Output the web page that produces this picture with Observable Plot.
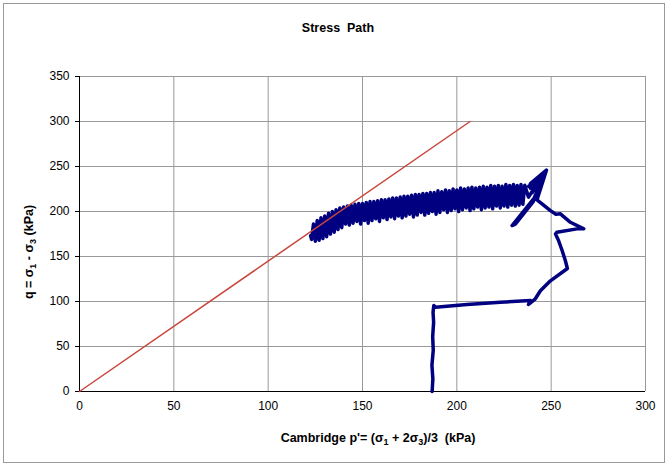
<!DOCTYPE html>
<html><head><meta charset="utf-8">
<script src="https://cdn.jsdelivr.net/npm/d3@7"></script>
<script src="https://cdn.jsdelivr.net/npm/@observablehq/plot@0.6"></script>
<style>body{margin:0;background:#fff}</style>
</head><body><div id="chart"></div>
<script>
// Tick values
const xTicks = [0, 50, 100, 150, 200, 250, 300];
const yTicks = [0, 50, 100, 150, 200, 250, 300, 350];

// Critical state line (red)
const cslP = [0, 207];
const cslQ = [0, 300];

// Stress path (blue): loading, then spike, then cyclic band
const pathP = [
  186.9, 187.3, 186.8, 187.5, 187.2, 187.7, 187.4, 187.8, 188.7, 205.4, 223, 239, 238, 241.6, 244.3, 249.6,
  258.6, 257.5, 255.8, 253.9, 252.3, 253, 263.7, 267.3, 260.2, 254.9, 252.5, 249.6, 242.5,
  247.5, 239, 247, 239, 246.5, 240, 247, 241, 229.3, 231, 240.5, 246, 238, 244, 238,
  236, 235, 234, 233, 232, 231, 230, 229, 228, 227, 226, 225, 224, 223, 222, 221, 220, 219, 218, 217,
  216, 215, 214, 213, 212, 211, 210, 209, 208, 207, 206, 205, 204, 203, 202, 201, 200, 199, 198, 197,
  196, 195, 194, 193, 192, 191, 190, 189, 188, 187, 186, 185, 184, 183, 182, 181, 180, 179, 178, 177,
  176, 175, 174, 173, 172, 171, 170, 169, 168, 167, 166, 165, 164, 163, 162, 161, 160, 159, 158, 157,
  156, 155, 154, 153, 152, 151, 150, 149, 148, 147, 146, 145, 144, 143, 142, 141, 140, 139, 138, 137,
  136, 135, 134, 133, 132, 131, 130, 129, 128, 127, 126, 125, 124, 123, 122.5
];
const pathQ = [
  0, 14, 29, 46, 61, 77, 88, 95.5, 93.7, 96.7, 99.2, 101, 96.7, 103, 112, 123,
  136.7, 145.5, 156.7, 167.8, 175, 177, 180.7, 180.7, 188, 197.4, 197, 201, 213,
  246, 231, 244, 226, 242, 221, 244, 215, 184.4, 186, 211, 240, 228, 236, 216,
  229, 208, 230, 207, 229, 206, 230, 207, 229, 205, 230, 206, 228, 204, 229, 206, 228, 203, 229, 205,
  227, 204, 228, 202, 227, 205, 226, 203, 227, 201, 226, 204, 225, 202, 226, 200, 224, 203, 225, 201,
  223, 199, 224, 202, 222, 199, 223, 197, 221, 200, 221, 198, 220, 196, 220, 199, 219, 196, 219, 194,
  218, 197, 217, 195, 217, 193, 216, 195, 215, 192, 215, 194, 214, 191, 213, 193, 213, 189, 212, 192,
  211, 190, 211, 187, 210, 190, 209, 186, 209, 189, 208, 187, 207, 185, 206, 186, 205, 182, 204, 180,
  202, 177, 200, 175, 198, 172, 195, 170, 193, 168, 190, 167, 186, 169, 173
];

const csl = cslP.map((p, i) => ({p, q: cslQ[i]}));
const path = pathP.map((p, i) => ({p, q: pathQ[i]}));

const plot = Plot.plot({
  width: 668, height: 466,
  marginLeft: 79, marginRight: 23, marginTop: 76, marginBottom: 75,
  style: {fontFamily: "'Liberation Sans', Arial, sans-serif", fontSize: "12px", color: "#000", background: "#fff"},
  x: {domain: [0, 300], label: null},
  y: {domain: [0, 350], label: null},
  marks: [
    Plot.gridX(xTicks, {stroke: "#999", strokeOpacity: 1}),
    Plot.gridY(yTicks, {stroke: "#999", strokeOpacity: 1}),
    Plot.axisX(xTicks, {tickSize: 0, tickPadding: 10, label: null}),
    Plot.axisY(yTicks, {tickSize: 4, tickPadding: 6, label: null}),
    Plot.ruleX([0], {stroke: "#000"}),
    Plot.ruleY([0], {stroke: "#000"}),
    Plot.line(path, {x: "p", y: "q", stroke: "#000080", strokeWidth: 3.5, strokeLinejoin: "round", strokeLinecap: "round"}),
    Plot.line(csl, {x: "p", y: "q", stroke: "#c8463c", strokeWidth: 1.5})
  ]
});

document.getElementById("chart").appendChild(plot);

const svg = d3.select(plot);
const font = "'Liberation Sans', Arial, sans-serif";
svg.append("rect").attr("x", 3.5).attr("y", 3.5).attr("width", 661).attr("height", 459)
  .attr("fill", "none").attr("stroke", "#999");

svg.append("text").attr("x", 338).attr("y", 32).attr("text-anchor", "middle")
  .attr("font-family", font).attr("font-size", 12.5).attr("font-weight", "bold")
  .style("white-space", "pre").text("Stress  Path");

const yl = svg.append("text").attr("transform", "translate(33,252) rotate(-90)")
  .attr("text-anchor", "middle").attr("font-family", font).attr("font-size", 12.5).attr("font-weight", "bold");
yl.append("tspan").text("q = σ");
yl.append("tspan").attr("dy", 3).attr("font-size", 9).text("1");
yl.append("tspan").attr("dy", -3).text(" - σ");
yl.append("tspan").attr("dy", 3).attr("font-size", 9).text("3");
yl.append("tspan").attr("dy", -3).text(" (kPa)");

const xl = svg.append("text").attr("x", 378).attr("y", 442)
  .attr("text-anchor", "middle").attr("font-family", font).attr("font-size", 12.5).attr("font-weight", "bold")
  .style("white-space", "pre");
xl.append("tspan").text("Cambridge p'= (σ");
xl.append("tspan").attr("dy", 3).attr("font-size", 9).text("1");
xl.append("tspan").attr("dy", -3).text(" + 2σ");
xl.append("tspan").attr("dy", 3).attr("font-size", 9).text("3");
xl.append("tspan").attr("dy", -3).text(")/3  (kPa)");
</script>
</body></html>
